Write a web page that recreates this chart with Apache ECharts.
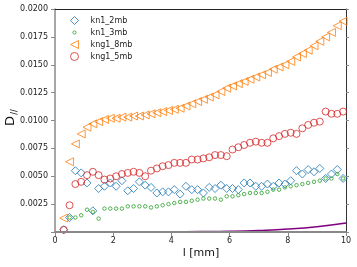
<!DOCTYPE html>
<html><head><meta charset="utf-8">
<script src="https://cdn.jsdelivr.net/npm/echarts@6/dist/echarts.min.js"></script>
<style>html,body{margin:0;padding:0;background:#fff}#c{width:357px;height:267px}</style>
</head><body><div id="c"></div>
<script>
const lValues = [0.3,0.5,0.7,0.9,1.1,1.3,1.5,1.7,1.9,2.1,2.3,2.5,2.7,2.9,3.1,3.3,3.5,3.7,3.9,4.1,4.3,4.5,4.7,4.9,5.1,5.3,5.5,5.7,5.9,6.1,6.3,6.5,6.7,6.9,7.1,7.3,7.5,7.7,7.9,8.1,8.3,8.5,8.7,8.9,9.1,9.3,9.5,9.7,9.9];
const kn1_2mb = [0.0002,0.0013,0.0055,0.0053,0.0044,0.0019,0.0039,0.0041,0.0044,0.0041,0.0046,0.0037,0.0039,0.0045,0.0042,0.0040,0.0035,0.0036,0.0036,0.0038,0.0034,0.0041,0.0038,0.0038,0.0035,0.0040,0.0039,0.0042,0.0039,0.0039,0.0038,0.0044,0.0044,0.0041,0.0041,0.0043,0.0041,0.0044,0.0043,0.0046,0.0055,0.0052,0.0056,0.0054,0.0057,0.0048,0.0052,0.0056,0.0048];
const kn1_3mb = [null,0.0013,0.0013,0.0015,0.0020,0.0018,0.0012,0.0021,0.0021,0.0021,0.0021,0.0023,0.0023,0.0023,0.0023,0.0022,0.0023,0.0024,0.0025,0.0026,0.0027,0.0027,0.0028,0.0029,0.0030,0.0030,0.0030,0.0029,0.0032,0.0032,0.0033,0.0034,0.0035,0.0035,0.0035,0.0036,0.0038,0.0038,0.0040,0.0041,0.0042,0.0043,0.0044,0.0045,0.0046,0.0048,0.0048,0.0052,0.0048];
const kng1_8mb = [0.00125,0.0063,0.0079,0.0088,0.0094,0.0097,0.0099,0.0101,0.0102,0.0102,0.0103,0.0103,0.0104,0.0104,0.0105,0.0106,0.0107,0.0108,0.0109,0.0110,0.0111,0.0113,0.0115,0.0117,0.0119,0.0121,0.0123,0.0126,0.0129,0.0131,0.0133,0.0135,0.0137,0.0139,0.0141,0.0143,0.0146,0.0148,0.0150,0.0153,0.0157,0.0160,0.0163,0.0167,0.0171,0.0175,0.0179,0.0185,0.0189];
const kng1_5mb = [0.0002,0.0024,0.0043,0.0045,0.0051,0.0054,0.0051,0.0047,0.0048,0.0050,0.0052,0.0053,0.0054,0.0053,0.0050,0.0055,0.0057,0.0059,0.0060,0.0062,0.0062,0.0062,0.0065,0.0065,0.0066,0.0067,0.0069,0.0069,0.0068,0.0074,0.0076,0.0078,0.0080,0.0081,0.0080,0.0080,0.0084,0.0086,0.0088,0.0089,0.0088,0.0093,0.0096,0.0098,0.0099,0.0108,0.0106,0.0106,0.0108];
const curveL = [0,1,2,3,4,5,6,7,8,9,10];
const curveD = [0,0.0000004,0.000003,0.00001,0.000022,0.00004,0.00007,0.00014,0.00026,0.00047,0.0008];
const xTicks = [0,2,4,6,8,10];
const yTicks = [0.0025,0.0050,0.0075,0.0100,0.0125,0.0150,0.0175,0.0200];

const FONT = 'DejaVu Sans';
const C_BLUE = '#1f77b4', C_GREEN = '#2ca02c', C_ORANGE = '#ff7f0e', C_RED = '#d62728';
const TRI_LEFT = 'path://M0,5L10,0L10,10Z';
const SMALL_RING = 'path://M0,0L0,0M10,10L10,10M3,5A2,2,0,1,1,7,5A2,2,0,1,1,3,5Z';
const zip = (xs, ys) => xs.map((x, i) => [x, ys[i]]);
const chart = echarts.init(document.getElementById('c'), null, {renderer: 'canvas'});
const hollow = (c, w) => ({color: 'rgba(0,0,0,0)', borderColor: c, borderWidth: w});
chart.setOption({
  animation: false,
  backgroundColor: '#fff',
  grid: {left: 55, right: 11, top: 9, bottom: 35},
  legend: {
    orient: 'vertical', left: 65, top: 11, itemWidth: 8, itemHeight: 8, itemGap: 3,
    textStyle: {fontFamily: FONT, fontSize: 8, color: '#222', padding: [0, 0, 0, 7]},
    data: [
      {name: 'kn1_2mb', icon: 'diamond', itemStyle: hollow(C_BLUE, 1)},
      {name: 'kn1_3mb', icon: SMALL_RING, itemStyle: hollow(C_GREEN, 1)},
      {name: 'kng1_8mb', icon: TRI_LEFT, itemStyle: hollow(C_ORANGE, 1)},
      {name: 'kng1_5mb', icon: 'circle', itemStyle: hollow(C_RED, 1)}
    ]
  },
  xAxis: [{
    type: 'value', min: xTicks[0], max: xTicks[xTicks.length - 1], interval: 2,
    axisLine: {lineStyle: {color: '#888', width: 2}},
    axisTick: {length: 4, lineStyle: {color: '#888'}},
    axisLabel: {margin: 5, fontFamily: FONT, fontSize: 8, color: '#222'},
    splitLine: {show: false}, z: 5
  }, {
    type: 'value', position: 'top', min: 0, max: 10,
    axisLine: {show: true, onZero: false, lineStyle: {color: '#222', width: 1}},
    axisTick: {show: false}, axisLabel: {show: false}, splitLine: {show: false}
  }],
  yAxis: [{
    type: 'value', min: 0, max: yTicks[yTicks.length - 1], interval: 0.0025,
    axisLine: {show: true, lineStyle: {color: '#888', width: 1.5}},
    axisTick: {show: true, length: 4, lineStyle: {color: '#888'}},
    axisLabel: {margin: 7, fontFamily: FONT, fontSize: 8, color: '#222',
      formatter: v => (v === 0 ? '' : v.toFixed(4))},
    splitLine: {show: false}
  }, {
    type: 'value', position: 'right', min: 0, max: 0.02, interval: 0.0025,
    axisLine: {show: true, onZero: false, lineStyle: {color: '#333', width: 1}},
    axisTick: {show: true, length: 3, lineStyle: {color: '#888'}},
    axisLabel: {show: false}, splitLine: {show: false}
  }],
  graphic: [
    {type: 'text', x: 11, y: 121, rotation: Math.PI / 2,
      style: {text: 'D', fontFamily: FONT, fontSize: 13, fill: '#111', align: 'center', verticalAlign: 'middle'}},
    {type: 'text', x: 15, y: 112, rotation: Math.PI / 2,
      style: {text: '//', fontFamily: FONT, fontSize: 8, fill: '#111', align: 'center', verticalAlign: 'middle'}},
    {type: 'text', x: 201, y: 253,
      style: {text: 'l [mm]', fontFamily: FONT, fontSize: 11, fill: '#111', align: 'center', verticalAlign: 'middle'}}
  ],
  series: [
    {name: 'kn1_2mb', type: 'scatter', data: zip(lValues, kn1_2mb), symbol: 'diamond', symbolSize: 8,
      itemStyle: hollow(C_BLUE, 1)},
    {name: 'kn1_3mb', type: 'scatter', data: zip(lValues, kn1_3mb), symbol: 'circle', symbolSize: 3.5,
      itemStyle: hollow(C_GREEN, 1)},
    {name: 'kng1_8mb', type: 'scatter', data: zip(lValues, kng1_8mb), symbol: TRI_LEFT, symbolSize: 8,
      itemStyle: hollow(C_ORANGE, 1)},
    {name: 'kng1_5mb', type: 'scatter', data: zip(lValues, kng1_5mb), symbol: 'circle', symbolSize: 7,
      itemStyle: hollow(C_RED, 1)},
    {name: 'fit', type: 'line', data: zip(curveL, curveD), smooth: true, showSymbol: false, symbol: 'none',
      lineStyle: {color: '#800080', width: 1.5}, z: -1}
  ]
});
</script></body></html>
